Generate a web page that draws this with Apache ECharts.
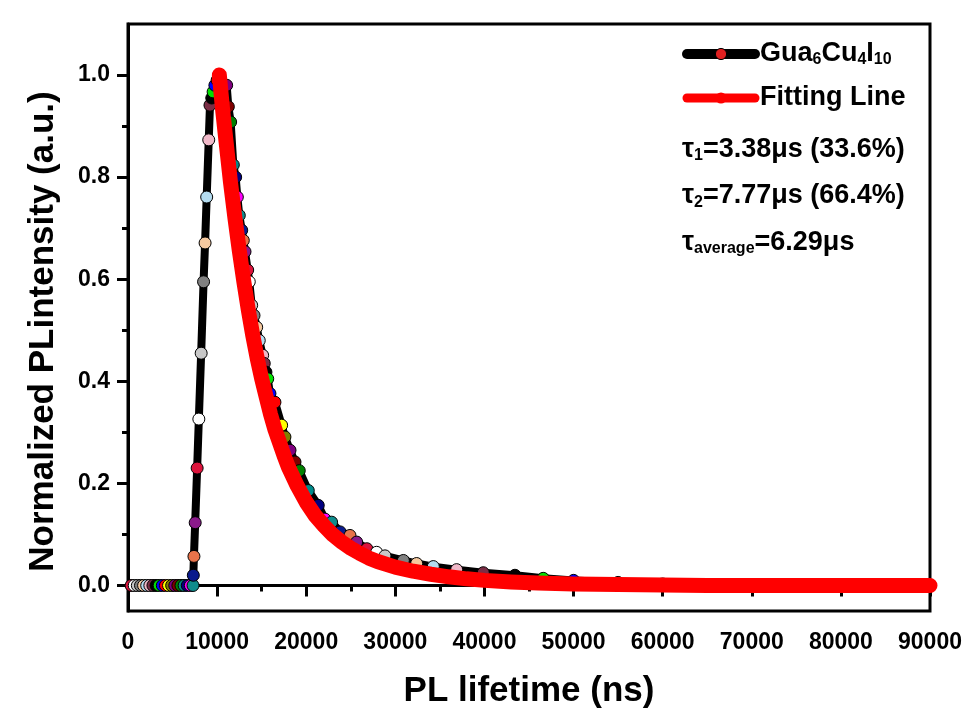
<!DOCTYPE html>
<html>
<head>
<meta charset="utf-8">
<script src="https://cdn.jsdelivr.net/npm/echarts@6/dist/echarts.min.js"></script>
<style>
	html, body { margin: 0; padding: 0; background: #fff; }
	#main { width: 967px; height: 715px; }
</style>
</head>
<body>
<div id="main"></div>
<script>
// measured decay (ns, normalized intensity)
var expTime = [350, 700, 1050, 1400, 1750, 2100, 2450, 2800, 3150, 3500, 3850, 4200, 4550, 4900, 5250, 5600, 5950, 6300, 6650, 7000,
	7300, 7330, 7400, 7540, 7760, 7950, 8210, 8480, 8650, 8830, 9060, 9200, 9400, 9550, 9750, 10000, 10300, 10650, 11070, 11260,
	11520, 11820, 12080, 12270, 12490, 12760, 12940, 13130, 13430, 13610, 13880, 14140, 14440, 14730, 15110, 15290, 15480, 15680, 15930, 16490,
	17240, 17610, 18180, 18740, 19220, 20230, 21350, 22100, 22850, 23800, 24910, 25660, 26800, 27900, 28840, 30900, 32390, 34260, 36880, 39870,
	43420, 46600, 50000, 55000, 60000, 70000, 80000, 90000];
var expValue = [0, 0, 0, 0, 0, 0, 0, 0, 0, 0, 0, 0, 0, 0, 0, 0, 0, 0, 0, 0,
	0, 0.02, 0.057, 0.123, 0.23, 0.326, 0.455, 0.595, 0.671, 0.761, 0.873, 0.941, 0.955, 0.967, 0.98, 0.99, 0.985, 0.98, 0.98, 0.938,
	0.908, 0.824, 0.8, 0.761, 0.725, 0.696, 0.676, 0.654, 0.618, 0.595, 0.549, 0.529, 0.506, 0.48, 0.451, 0.435, 0.418, 0.405, 0.376, 0.359,
	0.314, 0.291, 0.265, 0.242, 0.225, 0.186, 0.157, 0.13, 0.124, 0.105, 0.098, 0.085, 0.072, 0.065, 0.058, 0.049, 0.043, 0.037, 0.031, 0.025,
	0.02, 0.014, 0.01, 0.006, 0.003, 0.001, 0, 0];

// biexponential fit
var fitTime = [10250, 10600, 11000, 11500, 12000, 12500, 13000, 13500, 14000, 14500, 15000, 15500, 16000, 16500, 17000, 17500, 18000, 19000, 20000, 21000,
	22000, 23000, 24000, 25000, 26000, 27000, 28000, 30000, 32000, 34000, 36000, 38000, 40000, 43000, 46000, 50000, 55000, 60000, 65000, 70000,
	75000, 80000, 85000, 90000];
var fitValue = [1.0, 0.935, 0.87, 0.79, 0.72, 0.655, 0.595, 0.54, 0.49, 0.445, 0.405, 0.37, 0.335, 0.305, 0.28, 0.255, 0.232, 0.195, 0.163, 0.137,
	0.117, 0.099, 0.085, 0.073, 0.063, 0.054, 0.047, 0.036, 0.028, 0.022, 0.017, 0.013, 0.01, 0.007, 0.005, 0.003, 0.002, 0.001, 0, 0,
	0, 0, 0, 0];

var yLabels = [0, 0.2, 0.4, 0.6, 0.8, 1.0];
var yMinor = [0.1, 0.3, 0.5, 0.7, 0.9];

var fitText = [
	'{t|τ}{s|1}{t|=3.38μs (33.6%)}',
	'{t|τ}{s|2}{t|=7.77μs (66.4%)}',
	'{t|τ}{s|average}{t|=6.29μs}',
];

var palette = ['#dc143c', '#ffffff', '#c8c8c8', '#808080', '#f5c9a0', '#b4dcf0', '#f0b8c8', '#7b2d45', '#000000', '#00e000', '#0000ff', '#ff0000',
	'#ffff00', '#808000', '#800080', '#800000', '#008000', '#008b8b', '#000080', '#ff00ff', '#0f8c8c', '#0a1a8c', '#e8734a', '#8b1a8b'];

var font = 'Liberation Sans, Arial, sans-serif';

function pairs(xs, ys) {
	return xs.map(function(x, i) {
		return [x, ys[i]];
	});
}

var chart = echarts.init(document.getElementById('main'));

var tickLine = { color: '#000', width: 3 };
var textRich = {
	t: { fontFamily: font, fontWeight: 'bold', fontSize: 27, color: '#000', lineHeight: 28, verticalAlign: 'top' },
	s: { fontFamily: font, fontWeight: 'bold', fontSize: 16, color: '#000', lineHeight: 16, padding: [22, 0, 0, 0], verticalAlign: 'bottom' },
};

chart.setOption({
	backgroundColor: '#fff',
	animation: false,
	grid: { left: 128, right: 37, top: 24, bottom: 104, show: true, borderColor: '#000', borderWidth: 3 },
	legend: {
		orient: 'vertical',
		left: 682,
		top: 30,
		padding: 0,
		itemWidth: 68,
		itemHeight: 14,
		itemGap: 16,
		data: [
			{ name: 'exp', itemStyle: { color: '#e02020', borderColor: '#000', borderWidth: 1 }, lineStyle: { color: '#000', width: 10 } },
			{ name: 'fit', itemStyle: { color: '#ff0000' }, lineStyle: { color: '#ff0000', width: 9 } },
		],
		formatter: function(name) {
			return name === 'exp' ? '{t|Gua}{s|6}{t|Cu}{s|4}{t|I}{s|10}' : '{t|Fitting Line}';
		},
		textStyle: { rich: textRich },
	},
	xAxis: {
		type: 'value',
		min: 0,
		max: 90000,
		interval: 10000,
		axisLine: { lineStyle: tickLine },
		axisTick: { length: 11, lineStyle: tickLine },
		minorTick: { show: true, splitNumber: 2, length: 6, lineStyle: tickLine },
		splitLine: { show: false },
		axisLabel: {
			fontFamily: font, fontWeight: 'bold', fontSize: 23, color: '#000', margin: 20,
			formatter: function(v) { return String(v); },
		},
		name: 'PL lifetime (ns)',
		nameLocation: 'middle',
		nameGap: 63,
		nameTextStyle: { fontFamily: font, fontWeight: 'bold', fontSize: 35, color: '#000' },
	},
	yAxis: [
		{
			type: 'value',
			min: -0.05,
			max: 1.1,
			axisLine: { lineStyle: tickLine },
			axisTick: { length: 11, lineStyle: tickLine, customValues: yLabels },
			splitLine: { show: false },
			axisLabel: {
				customValues: yLabels,
				fontFamily: font, fontWeight: 'bold', fontSize: 23, color: '#000', margin: 18,
				formatter: function(v) { return v.toFixed(1); },
			},
			name: 'Normalized PLintensity (a.u.)',
			nameLocation: 'middle',
			nameGap: 67,
			nameTextStyle: { fontFamily: font, fontWeight: 'bold', fontSize: 35, color: '#000', padding: [0, 28, 0, 0] },
		},
		{
			type: 'value',
			position: 'left',
			min: -0.05,
			max: 1.1,
			axisLine: { show: false },
			axisTick: { length: 6, lineStyle: tickLine, customValues: yMinor },
			axisLabel: { show: false },
			splitLine: { show: false },
		},
	],
	graphic: fitText.map(function(txt, i) {
		return {
			type: 'text',
			left: 682,
			top: 126 + i * 46.5,
			style: { text: txt, rich: textRich },
		};
	}),
	series: [
		{
			name: 'exp',
			type: 'line',
			data: pairs(expTime, expValue),
			lineStyle: { color: '#000', width: 8, join: 'round', cap: 'round' },
			symbol: 'circle',
			symbolSize: 12,
			itemStyle: {
				color: function(p) { return palette[p.dataIndex % palette.length]; },
				borderColor: '#000',
				borderWidth: 1,
			},
			z: 2,
		},
		{
			name: 'fit',
			type: 'line',
			data: pairs(fitTime, fitValue),
			lineStyle: { color: '#ff0000', width: 15, join: 'round', cap: 'round' },
			showSymbol: false,
			symbol: 'circle',
			itemStyle: { color: '#ff0000' },
			z: 3,
		},
	],
});
</script>
</body>
</html>
